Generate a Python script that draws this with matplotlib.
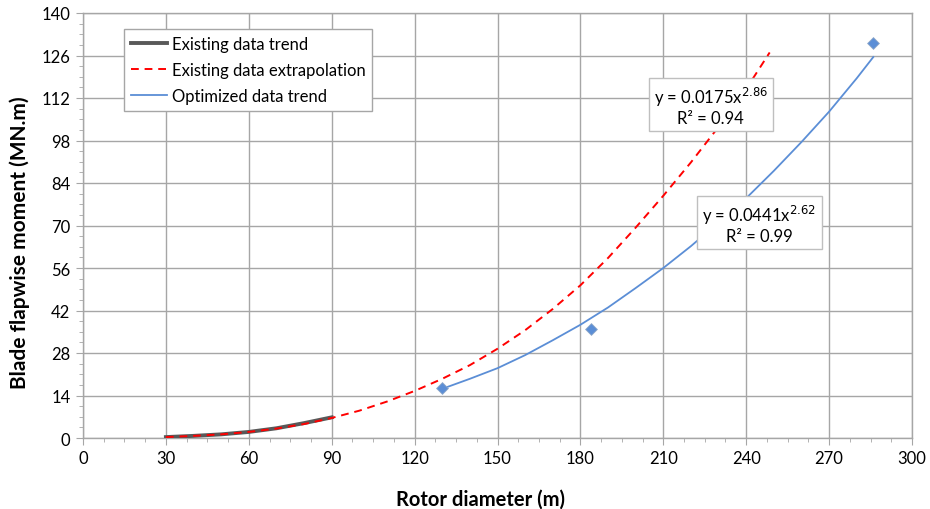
import matplotlib
matplotlib.use("Agg")
import matplotlib.pyplot as plt
from matplotlib.ticker import MultipleLocator

plt.rcParams['font.family'] = ['Lato', 'DejaVu Sans']

# Existing data trend
exist_x = [30, 40, 50, 60, 70, 80, 90]
exist_y = [0.3, 0.7, 1.2, 2.0, 3.2, 4.9, 6.8]

# Existing data extrapolation (red dashed)
extrap_x = [30, 40, 50, 60, 70, 80, 90, 100, 110, 120, 130, 140, 150, 160,
            170, 180, 190, 200, 210, 220, 230, 240, 248.5]
extrap_y = [0.3, 0.7, 1.2, 2.0, 3.1, 4.6, 6.6, 9.0, 12.0, 15.5, 19.5, 24.0,
            29.4, 35.5, 42.5, 50.3, 59.3, 69.3, 79.8, 90.8, 102.5, 115.0, 127.0]

# Optimized data trend (blue)
opt_x = [130, 140, 150, 160, 170, 180, 190, 200, 210, 220, 230, 240, 250,
         260, 270, 280, 286]
opt_y = [16.2, 19.5, 23.0, 27.3, 32.2, 37.3, 43.0, 49.4, 56.0, 63.2, 71.0,
         79.0, 88.0, 97.5, 107.5, 118.5, 125.5]

# Optimized data points
pts_x = [130, 184, 286]
pts_y = [16.5, 36.0, 130.0]

eq1_text = "y = 0.0175x$^{2.86}$\nR² = 0.94"
eq2_text = "y = 0.0441x$^{2.62}$\nR² = 0.99"

fig = plt.figure(figsize=(9.3, 5.1), dpi=100)
ax = fig.add_axes([83/930, 1-439/510, (912-83)/930, (439-14)/510])

grid_c = '#A6A6A6'
ax.set_xlim(0, 300)
ax.set_ylim(0, 140)
ax.xaxis.set_major_locator(MultipleLocator(30))
ax.xaxis.set_minor_locator(MultipleLocator(7.5))
ax.yaxis.set_major_locator(MultipleLocator(14))
ax.yaxis.set_minor_locator(MultipleLocator(3.5))
ax.grid(True, which='major', color=grid_c, linewidth=1.0)
ax.set_axisbelow(True)
for s in ax.spines.values():
    s.set_color(grid_c)
    s.set_linewidth(1.0)
ax.tick_params(which='major', direction='out', length=5, color=grid_c,
               labelsize=12, labelcolor='black', pad=4)
ax.tick_params(which='minor', direction='out', length=3, color=grid_c)

ax.plot(exist_x, exist_y, color='#595959', linewidth=2.8,
        label='Existing data trend', zorder=3)
ax.plot(extrap_x, extrap_y, color='#FF0000', linewidth=1.4,
        linestyle=(0, (4, 3)), label='Existing data extrapolation', zorder=4)
ax.plot(opt_x, opt_y, color='#5B8ED6', linewidth=1.3,
        label='Optimized data trend', zorder=4)
ax.scatter(pts_x, pts_y, marker='D', s=36, color='#5B8ED6',
           edgecolors='#8FA8C8', linewidths=0.6, zorder=5)

box = dict(boxstyle='square,pad=0.3', facecolor='white', edgecolor='#BFBFBF',
           linewidth=1)
ax.text(227.1, 109.5, eq1_text, ha='center', va='center', fontsize=12,
        bbox=box, zorder=6, linespacing=1.15)
ax.text(244.8, 70.8, eq2_text, ha='center', va='center', fontsize=12,
        bbox=box, zorder=6, linespacing=1.15)

leg = ax.legend(loc='upper left', bbox_to_anchor=(41/829, 1-16/425), fontsize=12,
                frameon=True, fancybox=False, framealpha=1, edgecolor='#A6A6A6',
                handlelength=2.2, handletextpad=0.25, labelspacing=0.62,
                borderpad=0.4, borderaxespad=0)
leg.get_frame().set_linewidth(1.0)

fig.text(480/930, 1-500/510, 'Rotor diameter (m)', fontsize=14.5,
         fontweight='bold', ha='center', va='center')
fig.text(20/930, 1-242.5/510, 'Blade flapwise moment (MN.m)', fontsize=15,
         fontweight='bold', ha='center', va='center', rotation=90)

fig.savefig('out.png', dpi=100)
